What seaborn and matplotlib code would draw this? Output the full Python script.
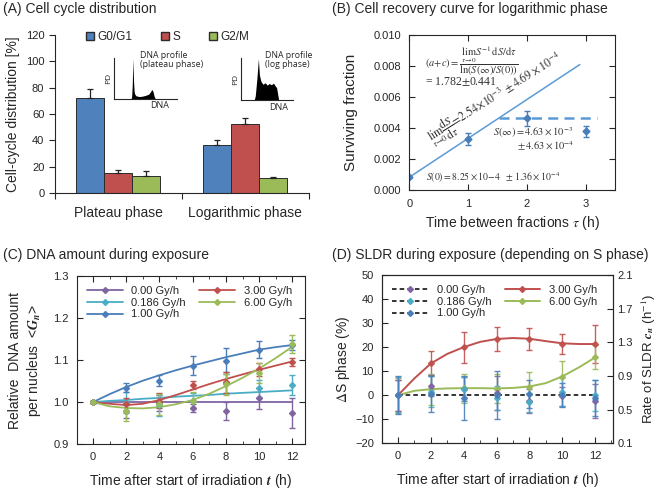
import numpy as np
import pandas as pd
import matplotlib
matplotlib.use('Agg')
import matplotlib.pyplot as plt
from matplotlib.lines import Line2D
from matplotlib.patches import Patch
from matplotlib.ticker import MultipleLocator
import seaborn as sns

# (A) cell cycle distribution
phases = ['Plateau phase', 'Logarithmic phase']
cycle = ['G0/G1', 'S', 'G2/M']
pct_plateau = [72.6, 15.0, 12.7]
pct_log = [36.3, 52.5, 11.4]
err_plateau = [6.8, 2.3, 3.8]
err_log = [3.8, 4.6, 0.8]

# DNA profiles (sketched insets), x = relative DNA content
plat_x = [0, 0.27, 0.28, 0.29, 0.30, 0.31, 0.32, 0.33, 0.35, 0.40, 0.45, 0.50, 0.55, 0.58, 0.60, 0.62, 0.64, 0.66, 1.0]
plat_y = [0, 0, 0.05, 0.35, 1.0, 0.45, 0.18, 0.12, 0.08, 0.06, 0.07, 0.09, 0.12, 0.18, 0.24, 0.18, 0.05, 0, 0]
log_x = [0, 0.26, 0.28, 0.31, 0.34, 0.36, 0.39, 0.43, 0.47, 0.51, 0.55, 0.59, 0.63, 0.66, 0.69, 0.71, 0.73, 1.0]
log_y = [0, 0, 0.1, 0.5, 1.0, 0.6, 0.45, 0.38, 0.42, 0.36, 0.40, 0.37, 0.41, 0.35, 0.30, 0.15, 0, 0]

# (B) recovery curve
tau = [0, 1, 2, 3]
surv = [0.00083, 0.0033, 0.00463, 0.0038]
surv_err = [0.00005, 0.0004, 0.00048, 0.00035]
fit_tau = [0, 2.9]
fit_surv = [0.00083, 0.0081]
sinf_tau = [1.52, 3.2]
sinf_val = [0.00463, 0.00463]

# (C) DNA amount, (D) delta S phase
t_pts = [0, 2, 4, 6, 8, 10, 12]
t_fit = list(range(13))
doses = ['0.00 Gy/h', '0.186 Gy/h', '1.00 Gy/h', '3.00 Gy/h', '6.00 Gy/h']
dose_cols = ['#8064A2', '#4BACC6', '#4A7EBB', '#C0504D', '#9BBB59']

c_vals = [
    [1.000, 0.978, 0.998, 0.986, 0.979, 1.009, 0.974],
    [1.000, 0.998, 0.992, 1.003, 1.046, 1.033, 1.040],
    [1.000, 1.034, 1.051, 1.087, 1.098, 1.125, 1.136],
    [1.000, 0.995, 1.003, 1.041, 1.047, 1.078, 1.095],
    [1.000, 0.978, 0.995, 1.003, 1.043, 1.069, 1.138],
]
c_err = [
    [0.003, 0.015, 0.020, 0.010, 0.021, 0.025, 0.035],
    [0.003, 0.025, 0.024, 0.018, 0.025, 0.020, 0.024],
    [0.003, 0.011, 0.013, 0.023, 0.030, 0.020, 0.012],
    [0.003, 0.015, 0.018, 0.010, 0.025, 0.015, 0.010],
    [0.003, 0.022, 0.025, 0.020, 0.025, 0.024, 0.022],
]
c_fit = [
    [1.0] * 13,
    [1.000, 1.003, 1.005, 1.008, 1.010, 1.013, 1.015, 1.017, 1.020, 1.022, 1.024, 1.026, 1.028],
    [1.000, 1.019, 1.036, 1.051, 1.064, 1.076, 1.087, 1.097, 1.107, 1.116, 1.125, 1.131, 1.136],
    [1.000, 0.996, 0.993, 0.996, 1.005, 1.017, 1.030, 1.043, 1.055, 1.066, 1.077, 1.087, 1.097],
    [1.000, 0.990, 0.986, 0.985, 0.988, 0.995, 1.005, 1.020, 1.038, 1.058, 1.080, 1.105, 1.132],
]

d_vals = [
    [0, 4.0, 2.5, 0.8, -2.5, -0.5, -2.5],
    [0, 1.5, 2.5, -1.0, -3.0, 1.5, 0.0],
    [0, 0.5, -1.2, 0.0, 0.5, 0.0, -1.0],
    [0, 13.2, 19.9, 23.5, 23.5, 21.3, 21.3],
    [0, 2.4, 2.8, 2.6, 3.5, 7.6, 15.7],
]
d_err = [
    [6.5, 4.5, 5.0, 7.0, 5.0, 4.0, 7.0],
    [7.5, 6.5, 5.0, 5.0, 4.0, 6.0, 6.5],
    [8.0, 7.5, 9.0, 10.0, 6.0, 5.0, 7.5],
    [6.5, 5.0, 6.5, 5.0, 4.5, 4.2, 8.0],
    [7.0, 6.5, 6.0, 6.0, 6.0, 6.6, 5.0],
]
d_fit_low = [0] * 13
d_fit_300 = [0, 7.0, 13.2, 17.2, 20.0, 22.2, 23.4, 23.8, 23.5, 22.5, 21.6, 21.3, 21.3]
d_fit_600 = [0, 1.8, 2.5, 2.8, 2.9, 2.9, 2.8, 3.0, 3.6, 5.0, 7.8, 11.5, 15.7]

sns.set_style('ticks')
plt.rcParams['font.family'] = ['Liberation Sans', 'DejaVu Sans']
plt.rcParams['mathtext.fontset'] = 'stix'
plt.rcParams['axes.linewidth'] = 0.8

fig = plt.figure(figsize=(6.6, 4.94), dpi=100)

title_fs = 10
fig.text(0.005, 0.995, '(A) Cell cycle distribution', va='top', fontsize=title_fs)
fig.text(0.503, 0.995, '(B) Cell recovery curve for logarithmic phase', va='top', fontsize=title_fs)
fig.text(0.005, 0.497, '(C) DNA amount during exposure', va='top', fontsize=title_fs)
fig.text(0.503, 0.497, '(D) SLDR during exposure (depending on S phase)', va='top', fontsize=title_fs)

# ---------- A
col_A = ['#4F81BD', '#C0504D', '#9BBB59']
dfA = pd.DataFrame({'phase': np.repeat(phases, 3), 'cycle': cycle * 2,
                    'pct': pct_plateau + pct_log})
axA = fig.add_axes([0.083, 0.609, 0.385, 0.32])
sns.barplot(data=dfA, x='phase', y='pct', hue='cycle', palette=col_A, width=0.66, saturation=1,
            edgecolor='#2b2b2b', linewidth=0.7, errorbar=None, legend=False, ax=axA)
for i, (vals, errs) in enumerate([(pct_plateau, err_plateau), (pct_log, err_log)]):
    for j in range(3):
        axA.errorbar(i + (j - 1) * 0.22, vals[j], yerr=[[0], [errs[j]]], fmt='none',
                     ecolor='#222222', elinewidth=0.9, capsize=2.5, capthick=0.9)
axA.set_xlim(-0.5, 1.5)
axA.set_ylim(0, 120)
axA.set_yticks(range(0, 121, 20))
axA.set_xticks([-0.5, 0.5, 1.5])
axA.set_xticklabels([])
axA.set_xticks([0, 1], minor=True)
axA.set_xticklabels(phases, minor=True, fontsize=10)
axA.tick_params(axis='x', which='minor', length=0, pad=9)
axA.tick_params(axis='both', which='major', labelsize=8, length=4, direction='out')
axA.set_xlabel('')
axA.set_ylabel('Cell-cycle distribution [%]', fontsize=10)
sns.despine(ax=axA)
axA.legend(handles=[Patch(facecolor=c, edgecolor='#2b2b2b', label=l) for c, l in zip(col_A, cycle)],
           ncol=3, loc='upper left', bbox_to_anchor=(0.08, 1.09), frameon=False,
           handlelength=0.7, handleheight=0.7, handletextpad=0.3, columnspacing=2.4,
           fontsize=8.5)

for rect, px_, py_, title in [([0.1727, 0.7996, 0.0955, 0.083], plat_x, plat_y, 'DNA profile\n(plateau phase)'),
                              ([0.3647, 0.7976, 0.0788, 0.085], log_x, log_y, 'DNA profile\n(log phase)')]:
    ins = fig.add_axes(rect)
    ins.fill_between(px_, py_, color='black', lw=0)
    ins.set_xlim(0, 1)
    ins.set_ylim(0, 1.02)
    ins.set_xticks([])
    ins.set_yticks([])
    ins.patch.set_alpha(0)
    sns.despine(ax=ins)
    ins.set_ylabel('PD', fontsize=6, labelpad=1, family='Open Sans')
    ins.text(0.72, -0.06, 'DNA', transform=ins.transAxes, ha='center', va='top',
             fontsize=6.5, family='Open Sans')
    ins.text(0.42 if 'plateau' in title else 0.47, 1.17, title, transform=ins.transAxes,
             ha='left', va='top', fontsize=6.3, family='Open Sans', linespacing=1.05)

# ---------- B
blue_B = '#4A7EBB'
axB = fig.add_axes([0.620, 0.615, 0.312, 0.314])
sns.lineplot(x=fit_tau, y=fit_surv, color='#5B9BD5', lw=1.1, ax=axB)
sns.lineplot(x=sinf_tau, y=sinf_val, color='#5B9BD5', lw=1.8, ax=axB)
axB.lines[-1].set_dashes([4, 2.5])
axB.errorbar(tau, surv, yerr=surv_err, fmt='D', ms=3.5, color=blue_B, ecolor=blue_B,
             elinewidth=1.0, capsize=2.2, capthick=1.0)
axB.set_xlim(0, 3.5)
axB.set_ylim(0, 0.010)
axB.set_xticks([0, 1, 2, 3])
axB.set_yticks(np.arange(0, 0.0101, 0.002))
axB.set_yticklabels(['%.3f' % v for v in np.arange(0, 0.0101, 0.002)])
axB.tick_params(direction='in', top=True, right=True, labelsize=8, length=4, pad=6)
axB.set_xlabel(r'Time between fractions $\tau$ (h)', fontsize=10)
axB.set_ylabel('Surviving fraction', fontsize=11, labelpad=11)
serif = dict(family='Liberation Serif', color='#333333')
axB.text(0.27, 0.00834,
         r'$(a\!+\!c) = \dfrac{\lim_{\tau\to 0} S^{-1}\mathrm{d}S/\mathrm{d}\tau}{\ln(S(\infty)/S(0))}$',
         va='center', ha='left', fontsize=7.5, **serif)
axB.text(0.27, 0.0070, r'= 1.782$\pm$0.441', va='center', ha='left', fontsize=8.5, **serif)
axB.text(1.47, 0.00594,
         r'$\lim_{\tau\to 0}\dfrac{\mathrm{d}S}{\mathrm{d}\tau} = 2.54\times10^{-3}\pm4.69\times10^{-4}$',
         rotation=32, rotation_mode='anchor', ha='center', va='center', fontsize=8.5, **serif)
axB.text(1.42, 0.00368, r'$S(\infty) = 4.63\times10^{-3}$', va='center', ha='left', fontsize=7.5, **serif)
axB.text(1.83, 0.00286, r'$\pm\,4.63\times10^{-4}$', va='center', ha='left', fontsize=7.5, **serif)
axB.text(0.29, 0.00082, r'$S(0) = 8.25\times10{-}4\ \ \pm\,1.36\times10^{-4}$',
         va='center', ha='left', fontsize=7, **serif)

# ---------- C
axC = fig.add_axes([0.1167, 0.101, 0.345, 0.340])
for k in range(5):
    sns.lineplot(x=t_fit, y=c_fit[k], color=dose_cols[k], lw=1.3, ax=axC)
for k in range(5):
    axC.errorbar(t_pts, c_vals[k], yerr=c_err[k], fmt='D', ms=3, color=dose_cols[k],
                 ecolor=dose_cols[k], elinewidth=1.0, capsize=2, capthick=1.0)
axC.set_xlim(-0.96, 12.74)
axC.set_ylim(0.9, 1.3)
axC.set_xticks(range(0, 13, 2))
axC.set_yticks([0.9, 1.0, 1.1, 1.2, 1.3])
axC.xaxis.set_minor_locator(MultipleLocator(1))
axC.tick_params(which='both', direction='in', top=True, right=True, labelsize=8)
axC.tick_params(which='major', length=4, pad=6)
axC.tick_params(which='minor', length=2.5)
axC.set_xlabel(r'Time after start of irradiation $\mathbfit{t}$ (h)', fontsize=10, labelpad=7)
axC.set_ylabel('Relative  DNA amount\nper nucleus  <$\\mathbfit{G_n}$>', fontsize=10,
               linespacing=1.3, labelpad=7)
hC = [Line2D([], [], color=c, marker='D', ms=3, lw=1.3, label=l) for c, l in zip(dose_cols, doses)]
axC.legend(handles=hC, ncol=2, loc='upper left', frameon=False, fontsize=8,
           handlelength=3.2, labelspacing=0.15, columnspacing=1.2, borderaxespad=0.5)

# ---------- D
axD = fig.add_axes([0.579, 0.103, 0.350, 0.340])
sns.lineplot(x=t_fit, y=d_fit_300, color=dose_cols[3], lw=1.4, ax=axD)
sns.lineplot(x=t_fit, y=d_fit_600, color=dose_cols[4], lw=1.4, ax=axD)
sns.lineplot(x=t_fit, y=d_fit_low, color='black', lw=1.1, ax=axD)
axD.lines[-1].set_dashes([3, 2])
for k in [3, 4, 0, 1, 2]:
    axD.errorbar(t_pts, d_vals[k], yerr=d_err[k], fmt='D', ms=3, color=dose_cols[k],
                 ecolor=dose_cols[k], elinewidth=1.0, capsize=2, capthick=1.0, alpha=0.9)
axD.set_xlim(-0.97, 13.1)
axD.set_ylim(-20, 50)
axD.set_xticks(range(0, 13, 2))
axD.set_yticks(range(-20, 51, 10))
axD.xaxis.set_minor_locator(MultipleLocator(1))
axD.tick_params(which='both', direction='in', labelsize=8)
axD.tick_params(which='major', length=4, pad=6)
axD.tick_params(which='minor', length=2.5)
axD.set_xlabel(r'Time after start of irradiation $\mathbfit{t}$ (h)', fontsize=10, labelpad=7)
axD.set_ylabel(r'$\mathit{\Delta}$S phase (%)', fontsize=10, labelpad=2)
axR = axD.twinx()
axR.set_ylim(0.1, 2.1)
axR.set_yticks([0.1, 0.5, 0.9, 1.3, 1.7, 2.1])
axR.tick_params(direction='in', labelsize=8, length=4, pad=3)
axR.set_ylabel(r'Rate of SLDR $\mathbfit{c_n}$ (h$^{-1}$)', fontsize=9.5, labelpad=5)
hD = [Line2D([], [], color='black', ls='--', dashes=[3, 2], marker='D', ms=3,
             mfc=dose_cols[k], mec=dose_cols[k], lw=1.1, label=doses[k]) for k in range(3)]
hD += [Line2D([], [], color=dose_cols[k], marker='D', ms=3, lw=1.4, label=doses[k]) for k in [3, 4]]
axD.legend(handles=hD, ncol=2, loc='upper left', frameon=False, fontsize=8,
           handlelength=3.2, labelspacing=0.15, columnspacing=1.2, borderaxespad=0.5)

fig.savefig('out.png', dpi=100)
